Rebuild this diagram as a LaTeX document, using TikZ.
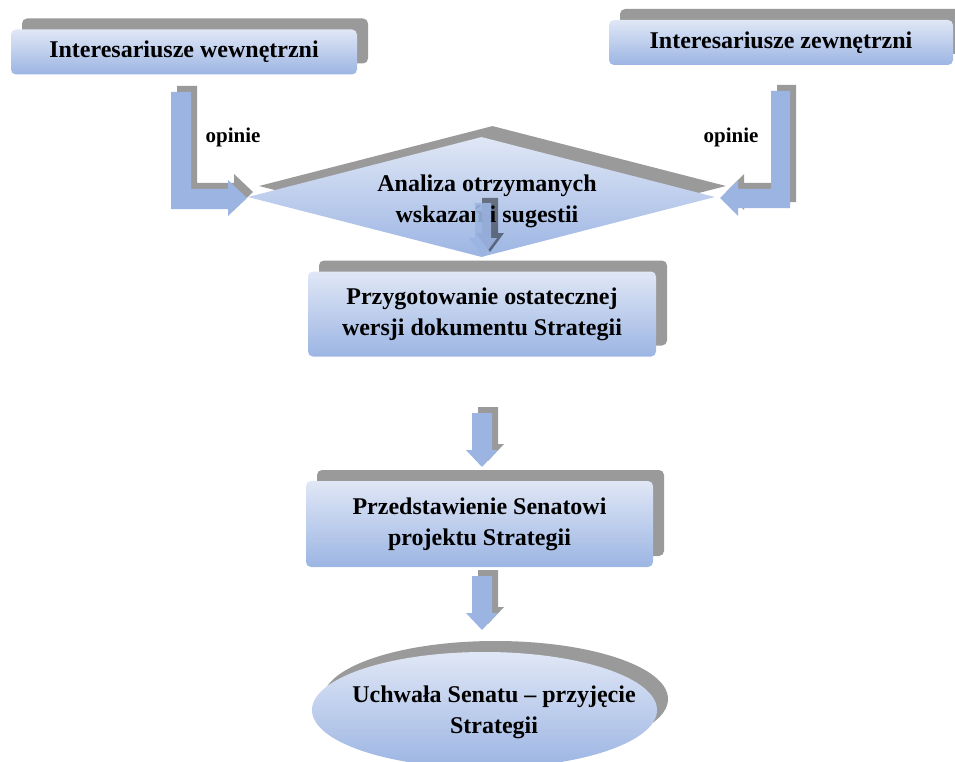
\documentclass[tikz,border=0pt]{standalone}
\usepackage{fontspec}
\setmainfont{Liberation Serif}
\usetikzlibrary{shapes.geometric,shadows}
\definecolor{shgray}{HTML}{9A9A9A}
\definecolor{ltop}{HTML}{E0E7F6}
\definecolor{lbot}{HTML}{9CB5E3}
\definecolor{arblue}{HTML}{9BB4E1}
% block arrow pointing down: style, x-centre, top, head base, tip, bar half width, head half width
\newcommand\blkdown[7]{%
  \fill[#1] (#2-#6,#3) -- (#2+#6,#3) -- (#2+#6,#4) -- (#2+#7,#4) -- (#2,#5)
    -- (#2-#7,#4) -- (#2-#6,#4) -- cycle;}
\begin{document}
\begin{tikzpicture}[x=1pt,y=-1pt,
  every node/.style={font=\fontsize{24}{31}\selectfont\bfseries, align=center, inner sep=0pt},
  grad/.style={top color=ltop, bottom color=lbot, draw=none},
  bigshadow/.style={general shadow={shadow xshift=11pt, shadow yshift=11pt, fill=shgray}},
  box/.style={grad, bigshadow, rectangle, rounded corners=5pt},
  blk/.style={fill=arblue, general shadow={shadow xshift=6pt, shadow yshift=6pt, fill=shgray}},
  blkin/.style={fill=arblue, fill opacity=0.9,
    general shadow={shadow xshift=7pt, shadow yshift=5pt, fill=black, fill opacity=0.45}},
  lbl/.style={font=\fontsize{21}{25}\selectfont\bfseries}]
\clip (0,0) rectangle (955,762);

% top boxes
\node[box, minimum width=346pt, minimum height=45pt] (wew) at (184,52) {Interesariusze wewnętrzni};
\node[box, minimum width=344pt, minimum height=45pt] (zew) at (781,42.5) {Interesariusze zewnętrzni};

% diamond
\node[diamond, grad, bigshadow, aspect=3.9, minimum width=467pt, minimum height=120pt] (ana) at (481.5,197) {};
\node (anatxt) at (487,201) {Analiza otrzymanych\\wskazań i sugestii};

% bent arrows with labels
\fill[blk] (171,92) -- (191,92) -- (191,189) -- (228,189) -- (228,180) -- (247,198)
  -- (228,216) -- (228,209) -- (171,209) -- cycle;
\fill[blk] (790,91) -- (771,91) -- (771,189) -- (738,189) -- (738,180) -- (720,198)
  -- (738,216) -- (738,208) -- (790,208) -- cycle;
\node[lbl] (op1) at (233,137) {opinie};
\node[lbl] (op2) at (731,137) {opinie};

% small arrow inside diamond
\blkdown{blkin}{483}{203}{238}{257}{8}{14}

% lower boxes
\node[box, minimum width=348pt, minimum height=85pt] (przyg) at (482,314) {Przygotowanie ostatecznej\\wersji dokumentu Strategii};
\blkdown{blk}{482}{413}{450}{467}{10}{16}
\node[box, minimum width=347pt, minimum height=86pt] (senat) at (479.5,524) {Przedstawienie Senatowi\\projektu Strategii};
\blkdown{blk}{482}{576}{613}{630}{10}{16}

% ellipse
\node[ellipse, grad, bigshadow, minimum width=345pt, minimum height=116pt] (uchw) at (484.5,710) {};
\node (uchwtxt) at (494,712) {Uchwała Senatu – przyjęcie\\Strategii};
\end{tikzpicture}
\end{document}
